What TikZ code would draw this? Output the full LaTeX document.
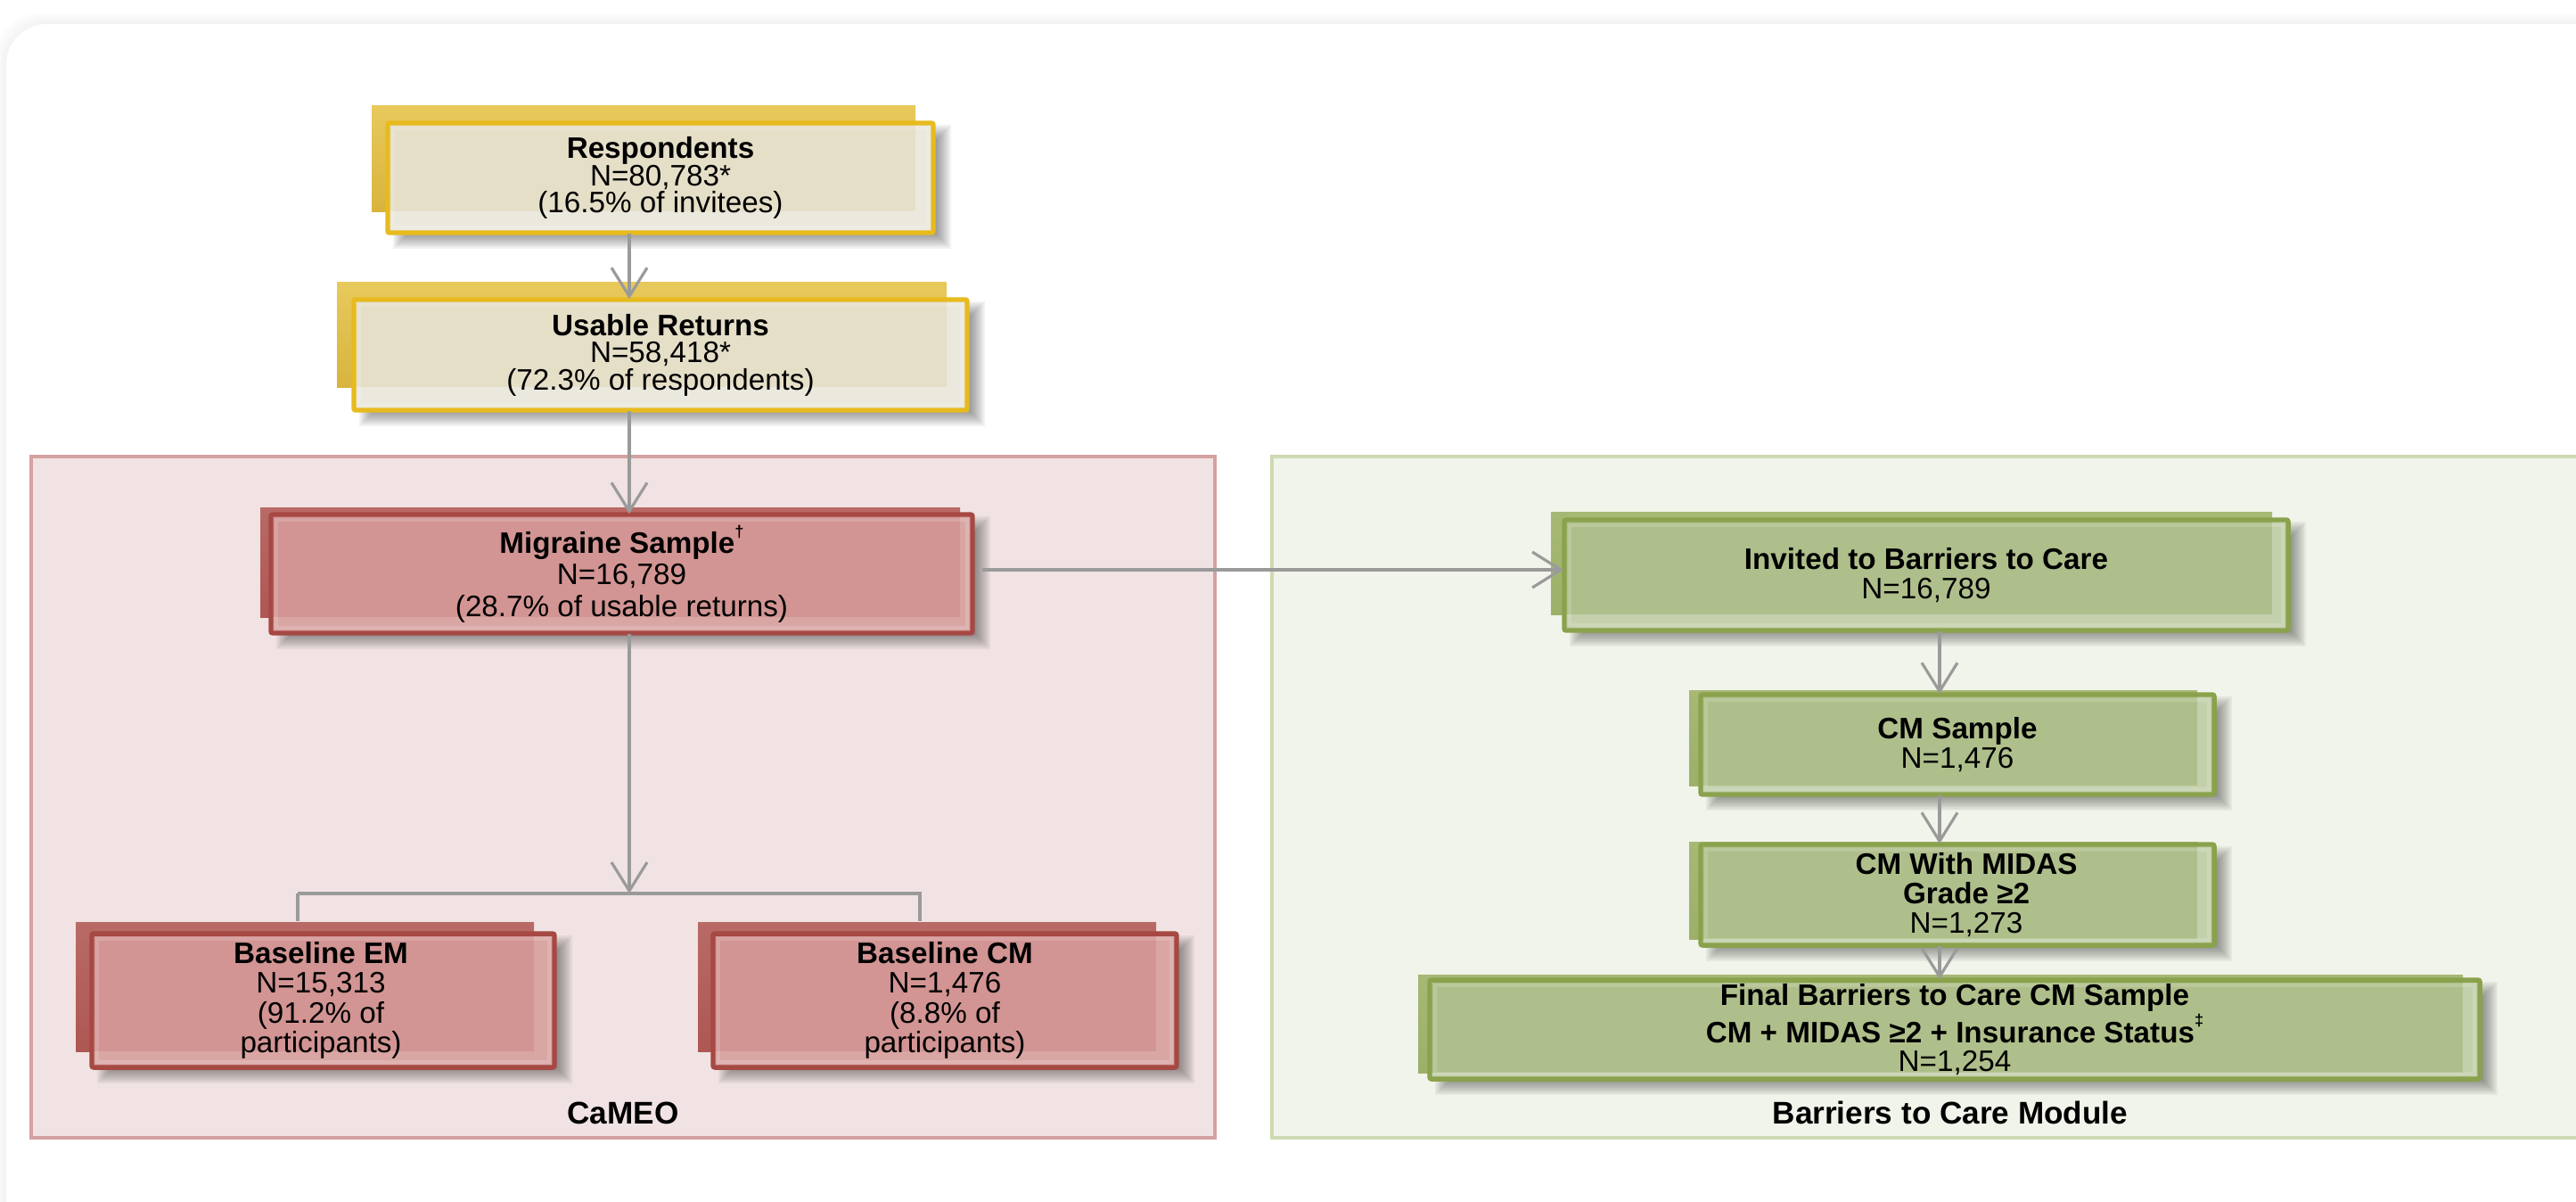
\documentclass[tikz,border=0pt]{standalone}
\usepackage{fontspec}
\setmainfont{Liberation Sans}
\usetikzlibrary{arrows.meta,calc}

\definecolor{arrgray}{HTML}{9A9A9A}
% yellow scheme
\definecolor{ytop}{HTML}{E8C95C}
\definecolor{ybot}{HTML}{D8B43E}
\definecolor{yband}{HTML}{EBE8DE}
\definecolor{ymain}{HTML}{E5DFC8}
\definecolor{ybord}{HTML}{E7BB1E}
% red scheme
\definecolor{rtop}{HTML}{B96A66}
\definecolor{rbot}{HTML}{AE5753}
\definecolor{rband}{HTML}{D9A6A4}
\definecolor{rmain}{HTML}{D29593}
\definecolor{rbord}{HTML}{A64843}
% green scheme
\definecolor{gtop}{HTML}{A6B874}
\definecolor{gbot}{HTML}{9DB06A}
\definecolor{gband}{HTML}{C4D0AC}
\definecolor{gmain}{HTML}{AFBF8B}
\definecolor{gbord}{HTML}{8AA24C}
% panels
\definecolor{redpanel}{HTML}{F1E3E3}
\definecolor{redpanelb}{HTML}{D5A1A1}
\definecolor{greenpanel}{HTML}{F1F4EA}
\definecolor{greenpanelb}{HTML}{CEDAB3}

\tikzset{
  arr/.style={draw=arrgray, line width=0.9pt, -{Straight Barb[length=0.32cm,width=0.40cm]}},
  conn/.style={draw=arrgray, line width=0.9pt},
  boxtext/.style={inner sep=0pt, align=center, text=black, font=\fontsize{9.45}{9.3}\selectfont},
  grouplabel/.style={inner sep=0pt, text=black, font=\fontsize{10}{12}\selectfont\bfseries},
}
\newcommand\supmark[1]{\raisebox{0.55em}{\fontsize{5.2}{6}\selectfont #1}}

% #1 scheme, #2-#5 front box x1,y1,x2,y2, #6-#9 back box x1,y1,x2,y2
\newcommand\boxbg[9]{%
  \foreach \g in {-8,-6,...,8}{\fill[black,opacity=0.05] ({#2+14-\g},{#3+10-\g}) rectangle ({#4+12+\g},{#5+10+\g});}
  \shade[top color=#1top, bottom color=#1bot] (#6,#7) rectangle (#8,#9);
  \fill[#1band] (#2,#3) rectangle (#4,#5);
  \fill[#1main] (#2,#3) rectangle (#8,#9);
  \draw[white,opacity=0.15,line width=1.1pt] ({#2+6},{#3+6}) rectangle ({#4-6},{#5-6});
  \draw[#1bord,line width=1.55pt,rounded corners=0.6pt] (#2,#3) rectangle (#4,#5);
}

\begin{document}
\begin{tikzpicture}[x=0.01cm,y=-0.01cm]
\clip (0,0) rectangle (2890,1347);
\fill[white] (0,0) rectangle (2890,1347);
% outer card with faint shadow
\foreach \g in {3,6,9,12}{\fill[black,opacity=0.012,rounded corners=0.5cm] ({7-\g},{27-\g}) rectangle (3000,1420);}
\fill[white,rounded corners=0.45cm] (7,27) rectangle (3000,1400);

% panels
\draw[fill=redpanel,draw=redpanelb,line width=1.1pt] (35,512) rectangle (1363,1276);
\draw[fill=greenpanel,draw=greenpanelb,line width=1.1pt] (1427,512) rectangle (2950,1276);

% box backgrounds
\boxbg{y}{435}{138}{1047}{261}{417}{118}{1027}{237}
\boxbg{y}{397}{336}{1085}{460}{378}{316}{1062}{434}
\boxbg{r}{304}{577}{1091}{710}{292}{569}{1077}{692}
\boxbg{r}{103}{1047}{622}{1197}{85}{1034}{599}{1179}
\boxbg{r}{800}{1047}{1320}{1197}{783}{1034}{1297}{1179}
\boxbg{g}{1755}{583}{2567}{707}{1740}{574}{2549}{689}
\boxbg{g}{1908}{779}{2484}{891}{1895}{774}{2465}{881}
\boxbg{g}{1908}{947}{2484}{1060}{1895}{944}{2465}{1053}
\boxbg{g}{1604}{1099}{2782}{1210}{1591}{1093}{2763}{1203}

% nodes
\node[boxtext, minimum width=6.12cm, minimum height=1.23cm, font=\fontsize{9.45}{8.7}\selectfont] (resp) at (741,199.5)
  {\textbf{Respondents}\\N=80,783*\\(16.5\% of invitees)};
\node[boxtext, minimum width=6.88cm, minimum height=1.24cm, font=\fontsize{9.45}{8.7}\selectfont] (usable) at (741,398)
  {\textbf{Usable Returns}\\N=58,418*\\(72.3\% of respondents)};
\node[boxtext, minimum width=7.87cm, minimum height=1.33cm, font=\fontsize{9.45}{10}\selectfont] (mig) at (697.5,643.5)
  {\textbf{Migraine Sample\supmark{†}}\\N=16,789\\(28.7\% of usable returns)};
\node[boxtext, minimum width=5.19cm, minimum height=1.50cm, font=\fontsize{9.45}{9.5}\selectfont] (em) at (360,1122)
  {\textbf{Baseline EM}\\N=15,313\\(91.2\% of\\participants)};
\node[boxtext, minimum width=5.20cm, minimum height=1.50cm, font=\fontsize{9.45}{9.5}\selectfont] (cmb) at (1060,1122)
  {\textbf{Baseline CM}\\N=1,476\\(8.8\% of\\participants)};
\node[boxtext, minimum width=8.12cm, minimum height=1.24cm] (inv) at (2161,645)
  {\textbf{Invited to Barriers to Care}\\N=16,789};
\node[boxtext, minimum width=5.76cm, minimum height=1.12cm] (cms) at (2196,835)
  {\textbf{CM Sample}\\N=1,476};
\node[boxtext, minimum width=5.76cm, minimum height=1.13cm] (mid) at (2206,1003.5)
  {\textbf{CM With MIDAS}\\\textbf{Grade ≥2}\\N=1,273};
\node[boxtext, minimum width=11.78cm, minimum height=1.11cm] (fin) at (2193,1154.5)
  {\textbf{Final Barriers to Care CM Sample}\\\textbf{CM + MIDAS ≥2 + Insurance Status\supmark{‡}}\\N=1,254};

\node[grouplabel] (cameo) at (699,1248) {CaMEO};
\node[grouplabel] (btc) at (2188,1248) {Barriers to Care Module};

% connectors
\coordinate (colA) at (706,0);
\coordinate (colB) at (2176,0);
\coordinate (brk) at (706,1002);
\coordinate (brkL) at (334,1002);
\coordinate (brkR) at (1032,1002);
\coordinate (rowM) at (0,639);

\draw[arr] (resp.south -| colA) -- (usable.north -| colA);
\draw[arr] (usable.south -| colA) -- (mig.north -| colA);
\draw[arr] (mig.south -| colA) -- (brk);
\draw[conn, shorten >=0.13cm] (brkL) -- (brkR) -- (cmb.north -| brkR);
\draw[conn, shorten >=0.13cm] (brkL) -- (em.north -| brkL);
\draw[arr, shorten <=0.1cm] (mig.east |- rowM) -- (inv.west |- rowM);
\draw[arr] (inv.south -| colB) -- (cms.north -| colB);
\draw[arr] (cms.south -| colB) -- (mid.north -| colB);
\draw[arr] (mid.south -| colB) -- (fin.north -| colB);
\end{tikzpicture}
\end{document}
